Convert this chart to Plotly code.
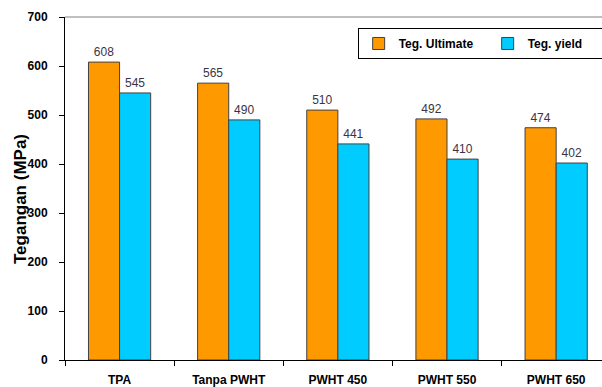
import plotly.graph_objects as go

categories = ["TPA", "Tanpa PWHT", "PWHT 450", "PWHT 550", "PWHT 650"]
ultimate = [608, 565, 510, 492, 474]
yield_ = [545, 490, 441, 410, 402]
y_ticks = [0, 100, 200, 300, 400, 500, 600, 700]

FONT = "Liberation Sans, Arial, sans-serif"

fig = go.Figure()
fig.add_trace(go.Bar(
    x=categories, y=ultimate, name="Teg. Ultimate",
    marker=dict(color="#FF9900", line=dict(color="#404040", width=1)),
    text=[str(v) for v in ultimate], textposition="outside",
    textfont=dict(family=FONT, size=12, color="#3a3346"), cliponaxis=False,
))
fig.add_trace(go.Bar(
    x=categories, y=yield_, name="Teg. yield",
    marker=dict(color="#00CCFF", line=dict(color="#404040", width=1)),
    text=[str(v) for v in yield_], textposition="outside",
    textfont=dict(family=FONT, size=12, color="#3a3346"), cliponaxis=False,
))

fig.update_layout(
    width=602, height=387,
    margin=dict(l=65, r=0, t=17, b=27, autoexpand=False),
    paper_bgcolor="white", plot_bgcolor="white",
    barmode="group", bargap=0.43, bargroupgap=0,
    font=dict(family=FONT, size=12, color="black"),
    showlegend=True,
    legend=dict(
        orientation="h", x=0.545, y=0.968, xanchor="left", yanchor="top",
        bordercolor="black", borderwidth=1, bgcolor="white",
        font=dict(family=FONT, size=12, color="black", weight="bold"),
        itemwidth=30, entrywidth=84,
    ),
    shapes=[dict(type="line", xref="paper", yref="paper", x0=0, x1=1, y0=1, y1=1,
                 line=dict(color="#808080", width=1))],
    annotations=[dict(
        text="Tegangan (MPa)", textangle=-90, xref="paper", yref="paper",
        x=-0.084, y=0.469, xanchor="center", yanchor="middle", showarrow=False,
        font=dict(family=FONT, size=17, color="black", weight="bold"),
    )],
)
fig.update_xaxes(
    range=[-0.5, 4.42], showline=True, linecolor="black", linewidth=1,
    ticks="outside", tickson="boundaries", ticklen=5, tickcolor="black",
    tickfont=dict(family=FONT, size=12, color="black", weight="bold"),
    ticklabelstandoff=9, showgrid=False, zeroline=False, automargin=False,
)
fig.update_yaxes(
    range=[0, 700], tickvals=y_ticks, showline=True, linecolor="black", linewidth=1,
    ticks="outside", ticklen=5, tickcolor="black",
    tickfont=dict(family=FONT, size=12, color="black", weight="bold"),
    ticklabelstandoff=9, showgrid=False, zeroline=False, automargin=False,
)

fig.write_html("out.html")
